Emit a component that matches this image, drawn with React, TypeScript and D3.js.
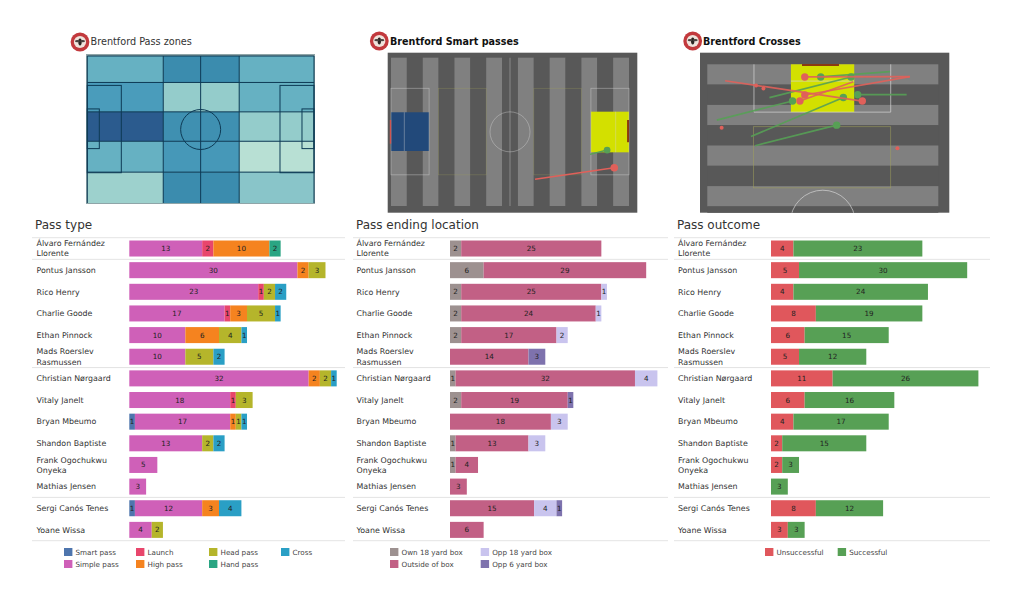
import React from 'react';
import * as d3 from 'd3';

const font = '"DejaVu Sans", sans-serif';

// players, top to bottom, same order in all three bar panels
const players = [
  ['Álvaro Fernández', 'Llorente'],
  ['Pontus Jansson'],
  ['Rico Henry'],
  ['Charlie Goode'],
  ['Ethan Pinnock'],
  ['Mads Roerslev', 'Rasmussen'],
  ['Christian Nørgaard'],
  ['Vitaly Janelt'],
  ['Bryan Mbeumo'],
  ['Shandon Baptiste'],
  ['Frank Ogochukwu', 'Onyeka'],
  ['Mathias Jensen'],
  ['Sergi Canós Tenes'],
  ['Yoane Wissa'],
];
// separators fall after these rows
const groupBreaks = [-1, 0, 5, 11, 13];

// pass type
const smartPass = [0, 0, 0, 0, 0, 0, 0, 0, 1, 0, 0, 0, 1, 0];
const simplePass = [13, 30, 23, 17, 10, 10, 32, 18, 17, 13, 5, 3, 12, 4];
const launch = [2, 0, 1, 1, 0, 0, 0, 1, 0, 0, 0, 0, 0, 0];
const highPass = [10, 2, 0, 3, 6, 0, 2, 0, 1, 0, 0, 0, 3, 0];
const headPass = [0, 3, 2, 5, 4, 5, 2, 3, 1, 2, 0, 0, 0, 2];
const handPass = [2, 0, 0, 0, 0, 0, 0, 0, 0, 0, 0, 0, 0, 0];
const cross = [0, 0, 2, 1, 1, 2, 1, 0, 1, 2, 0, 0, 4, 0];

// pass ending location
const own18 = [2, 6, 2, 2, 2, 0, 1, 2, 0, 1, 1, 0, 0, 0];
const outsideBox = [25, 29, 25, 24, 17, 14, 32, 19, 18, 13, 4, 3, 15, 6];
const opp18 = [0, 0, 1, 1, 2, 0, 4, 0, 3, 3, 0, 0, 4, 0];
const opp6 = [0, 0, 0, 0, 0, 3, 0, 1, 0, 0, 0, 0, 1, 0];

// pass outcome
const unsuccessful = [4, 5, 4, 8, 6, 5, 11, 6, 4, 2, 2, 0, 8, 3];
const successful = [23, 30, 24, 19, 15, 12, 26, 16, 17, 15, 3, 3, 12, 3];

const typeSeries = [
  { name: 'Smart pass', values: smartPass, color: '#4e75ad' },
  { name: 'Simple pass', values: simplePass, color: '#cf60b8' },
  { name: 'Launch', values: launch, color: '#e8466c' },
  { name: 'High pass', values: highPass, color: '#f5831f' },
  { name: 'Head pass', values: headPass, color: '#b5b52b' },
  { name: 'Hand pass', values: handPass, color: '#2aa583' },
  { name: 'Cross', values: cross, color: '#2a9fc5' },
];
const locationSeries = [
  { name: 'Own 18 yard box', values: own18, color: '#9d9190' },
  { name: 'Outside of box', values: outsideBox, color: '#c26085' },
  { name: 'Opp 18 yard box', values: opp18, color: '#c9c4ee' },
  { name: 'Opp 6 yard box', values: opp6, color: '#7e72ad' },
];
const outcomeSeries = [
  { name: 'Unsuccessful', values: unsuccessful, color: '#e0575c' },
  { name: 'Successful', values: successful, color: '#57a055' },
];

// pass zones: number of passes per zone, rows top to bottom, thirds left to right
const zoneColEdges = [0, 33.5, 67, 100];
const zoneRowEdges = [0, 18, 38, 58, 79, 100];
const zoneCounts = [
  [7, 11, 7],
  [9, 5, 7],
  [20, 10.5, 5],
  [7, 9.5, 3],
  [4.5, 11, 5.5],
];
const zoneCountDomain = [3, 5, 7, 9, 11, 20];
const zoneCountColors = ['#b8e0d4', '#94cccb', '#66b1c2', '#4a9cbb', '#3b8cae', '#2b5b8e'];

// smart passes in pitch units: start x, start y, end x, end y
const smartMissed = [[60.5, 82, 93.8, 74.2]];
const smartCompleted = [[83.6, 65.2, 90.8, 62.3]];

// crosses on the attacking half: start width, start length, end width, end length
const crossesMissed = [
  [87.7, 96.1, 42.2, 90.3],
  [7.7, 94.8, 67.1, 88.4],
  [87.7, 96.1, 42.2, 96],
  [63.2, 94.5, 40.1, 88.4],
];
const crossesCompleted = [
  [26.9, 89.5, 62.2, 96],
  [4.1, 82.4, 36.9, 88.4],
  [18.9, 77.2, 58.9, 89.5],
  [20.7, 74.3, 56, 80.8],
  [86.3, 90.4, 65.1, 90.4],
  [79.1, 97.7, 49.1, 96],
];
const crossesBlocked = [
  [24.3, 92.4],
  [21.1, 93.3],
  [6.2, 80],
  [82.3, 73.5],
];

const red = '#e0605a';
const green = '#57a055';
const darkGrey = '#585858';
const lightGrey = '#808080';
const lineWhite = '#d8d8d8';
const lineFaint = '#a3a35a';
const hotYellow = '#d3e000';
const coldBlue = '#22497a';

const Crest = ({ cx, cy }: { cx: number; cy: number }) => (
  <g transform={`translate(${cx},${cy})`}>
    <circle r={9.4} fill="#c2393d" />
    <circle r={6.1} fill="#efe3dc" />
    <ellipse rx={1.7} ry={3.4} fill="#2b2422" />
    <ellipse cx={-2.6} cy={-0.8} rx={2.4} ry={1.1} fill="#4a4340" />
    <ellipse cx={2.6} cy={-0.8} rx={2.4} ry={1.1} fill="#4a4340" />
  </g>
);

const PitchTitle = ({ x, text, bold }: { x: number; text: string; bold?: boolean }) => (
  <text x={x} y={45.3} fontFamily={font} fontSize={bold ? 9.6 : 9.7} fontWeight={bold ? 700 : 400} fill={bold ? '#111' : '#333'}>
    {text}
  </text>
);

const ZonesPitch = () => {
  const x = d3.scaleLinear().domain([0, 100]).range([87.3, 314]);
  const y = d3.scaleLinear().domain([0, 100]).range([56, 203]);
  const color = d3.scaleLinear<string>().domain(zoneCountDomain).range(zoneCountColors);
  const stroke = '#0d3a55';
  return (
    <g>
      <rect x={86} y={54} width={229} height={150} fill="#8fa5a8" />
      {zoneCounts.map((row, r) =>
        row.map((count, c) => (
          <rect
            key={`${r}-${c}`}
            x={x(zoneColEdges[c])}
            y={y(zoneRowEdges[r])}
            width={x(zoneColEdges[c + 1]) - x(zoneColEdges[c])}
            height={y(zoneRowEdges[r + 1]) - y(zoneRowEdges[r])}
            fill={color(count)}
          />
        ))
      )}
      <g fill="none" stroke={stroke} strokeWidth={1}>
        {zoneRowEdges.slice(0, -1).map((e) => (
          <line key={`r${e}`} x1={x(0)} x2={x(100)} y1={y(e)} y2={y(e)} />
        ))}
        {[0, 33.5, 50, 67, 100].map((e) => (
          <line key={`c${e}`} x1={x(e)} x2={x(e)} y1={y(0)} y2={y(100)} />
        ))}
        <rect x={x(0)} y={y(20)} width={x(15) - x(0)} height={y(79.4) - y(20)} />
        <rect x={x(0)} y={y(36)} width={x(5.3) - x(0)} height={y(63) - y(36)} />
        <rect x={x(85)} y={y(20)} width={x(100) - x(85)} height={y(79.4) - y(20)} />
        <rect x={x(94.7)} y={y(36)} width={x(100) - x(94.7)} height={y(63) - y(36)} />
        <circle cx={x(50)} cy={y(50)} r={20} />
      </g>
    </g>
  );
};

const SmartPitch = () => {
  const x = d3.scaleLinear().domain([0, 100]).range([391, 629]);
  const y = d3.scaleLinear().domain([0, 100]).range([57.7, 206]);
  const stripes = d3.scaleBand<number>().domain(d3.range(15)).range([391, 629]);
  const passes = [
    { rows: smartMissed, color: red, r: 3.8 },
    { rows: smartCompleted, color: green, r: 3.4 },
  ];
  return (
    <g>
      <rect x={387.7} y={52.7} width={249.6} height={160} fill={darkGrey} />
      {stripes.domain().map((i) => (
        <rect key={i} x={stripes(i)} y={y(0)} width={stripes.bandwidth()} height={y(100) - y(0)} fill={i % 2 ? darkGrey : lightGrey} />
      ))}
      <rect x={x(0)} y={y(36.8)} width={x(16) - x(0)} height={y(62.9) - y(36.8)} fill={coldBlue} />
      <rect x={x(84)} y={y(36.4)} width={x(100) - x(84)} height={y(63.8) - y(36.4)} fill={hotYellow} />
      <g fill="none" stroke={lineFaint} strokeWidth={0.6} strokeOpacity={0.45}>
        <rect x={x(20)} y={y(20.6)} width={x(40) - x(20)} height={y(79) - y(20.6)} />
        <rect x={x(60)} y={y(20.6)} width={x(80) - x(60)} height={y(79) - y(20.6)} />
      </g>
      <g fill="none" stroke={lineWhite} strokeWidth={0.7} strokeOpacity={0.55}>
        <rect x={x(0)} y={y(20.6)} width={x(16) - x(0)} height={y(79) - y(20.6)} />
        <rect x={x(84)} y={y(20.6)} width={x(100) - x(84)} height={y(79) - y(20.6)} />
        <line x1={x(50)} x2={x(50)} y1={y(0)} y2={y(100)} />
        <line x1={x(5.6)} x2={x(5.6)} y1={y(36.8)} y2={y(62.9)} />
        <line x1={x(94.4)} x2={x(94.4)} y1={y(36.4)} y2={y(63.8)} />
        <circle cx={x(50)} cy={y(50)} r={20} />
      </g>
      <line x1={x(0) - 0.5} x2={x(0) - 0.5} y1={y(42)} y2={y(58)} stroke="#d0554f" strokeWidth={1.4} />
      <line x1={x(99.6)} x2={x(99.6)} y1={y(42)} y2={y(57)} stroke="#8a3a10" strokeWidth={2} />
      {passes.map((p) =>
        p.rows.map((d, i) => (
          <g key={`${p.color}${i}`} fill={p.color} stroke={p.color}>
            <line x1={x(d[0])} y1={y(d[1])} x2={x(d[2])} y2={y(d[3])} strokeWidth={1.5} />
            <circle cx={x(d[2])} cy={y(d[3])} r={p.r} stroke="none" />
          </g>
        ))
      )}
    </g>
  );
};

const CrossPitch = () => {
  const x = d3.scaleLinear().domain([0, 100]).range([707.3, 938.3]);
  const y = d3.scaleLinear().domain([100, 50]).range([64.3, 222.7]);
  const stripes = d3.scaleBand<number>().domain(d3.range(8)).range([64.3, 226.7]);
  const passes = [
    { rows: crossesCompleted, color: green },
    { rows: crossesMissed, color: red },
  ];
  return (
    <g>
      <clipPath id="cross-clip">
        <rect x={700} y={52.7} width={249.3} height={160} />
      </clipPath>
      <rect x={700} y={52.7} width={249.3} height={160} fill={darkGrey} />
      <g clipPath="url(#cross-clip)">
        {stripes.domain().map((i) => (
          <rect key={i} x={x(0)} y={stripes(i)} width={x(100) - x(0)} height={stripes.bandwidth()} fill={i % 2 ? darkGrey : lightGrey} />
        ))}
      </g>
      <rect x={x(36.2)} y={y(100)} width={x(63.6) - x(36.2)} height={y(84.9) - y(100)} fill={hotYellow} />
      <rect x={x(20)} y={y(80.3)} width={x(79.4) - x(20)} height={y(61) - y(80.3)} fill="none" stroke={lineFaint} strokeWidth={0.7} strokeOpacity={0.7} />
      <g fill="none" stroke={lineWhite} strokeWidth={0.8} strokeOpacity={0.85}>
        <path d={`M${x(20.2)},${y(100)}V${y(84.9)}H${x(79.4)}V${y(100)}`} />
        <line x1={x(36.2)} x2={x(63.6)} y1={y(94.7)} y2={y(94.7)} />
        <g clipPath="url(#cross-clip)">
          <circle cx={x(50)} cy={y(50)} r={32.5} />
        </g>
      </g>
      <line x1={x(41)} x2={x(57)} y1={y(99.8)} y2={y(99.8)} stroke="#8a3a10" strokeWidth={2} />
      {passes.map((p) =>
        p.rows.map((d, i) => (
          <g key={`${p.color}${i}`} fill={p.color} stroke={p.color}>
            <line x1={x(d[0])} y1={y(d[1])} x2={x(d[2])} y2={y(d[3])} strokeWidth={1.7} strokeOpacity={0.9} />
            <circle cx={x(d[2])} cy={y(d[3])} r={3.7} stroke="none" />
          </g>
        ))
      )}
      {crossesBlocked.map((d, i) => (
        <circle key={i} cx={x(d[0])} cy={y(d[1])} r={2} fill={red} />
      ))}
    </g>
  );
};

type Series = { name: string; values: number[]; color: string };

const BarPanel = ({
  title,
  series,
  titleX,
  labelX,
  barX,
  ruleX,
}: {
  title: string;
  series: Series[];
  titleX: number;
  labelX: number;
  barX: number;
  ruleX: [number, number];
}) => {
  const x = d3.scaleLinear().domain([0, 37]).range([barX, barX + 207.4]);
  const y = d3.scaleBand<number>().domain(d3.range(players.length)).range([237.7, 540.7]).paddingInner(0.26).paddingOuter(0.13);
  const rows = players.map((_, i) => {
    const row: Record<string, number> = { index: i };
    series.forEach((s) => (row[s.name] = s.values[i]));
    return row;
  });
  const stacked = d3.stack<Record<string, number>>().keys(series.map((s) => s.name))(rows);
  return (
    <g fontFamily={font}>
      <text x={titleX} y={229} fontSize={12} fill="#333">
        {title}
      </text>
      {groupBreaks.map((b) => {
        const ry = 237.7 + (b + 1) * y.step();
        return <line key={b} x1={ruleX[0]} x2={ruleX[1]} y1={ry} y2={ry} stroke="#dcdcdc" strokeWidth={0.8} />;
      })}
      {players.map((lines, i) => {
        const cy = y(i)! + y.bandwidth() / 2;
        return lines.map((line, k) => (
          <text key={line} x={labelX} y={cy + (k - (lines.length - 1) / 2) * 10.4} dy="0.35em" fontSize={7.9} fill="#333">
            {line}
          </text>
        ));
      })}
      {stacked.map((layer, s) =>
        layer.map((d, i) => {
          const v = d[1] - d[0];
          if (!v) return null;
          return (
            <g key={`${s}-${i}`}>
              <rect x={x(d[0])} y={y(i)} width={x(d[1]) - x(d[0])} height={y.bandwidth()} fill={series[s].color} />
              <text x={(x(d[0]) + x(d[1])) / 2} y={y(i)! + y.bandwidth() / 2} dy="0.35em" textAnchor="middle" fontSize={7.2} fill="#222">
                {v}
              </text>
            </g>
          );
        })
      )}
    </g>
  );
};

const Legend = ({ series, columns, rows }: { series: Series[]; columns: number[]; rows: number }) => {
  const rowY = d3.scaleOrdinal<number, number>().domain([0, 1]).range([552, 564]);
  return (
    <g fontFamily={font}>
      {series.map((s, i) => {
        // legend fills column by column
        const col = Math.floor(i / rows);
        const cy = rowY(i % rows);
        return (
          <g key={s.name}>
            <rect x={columns[col]} y={cy - 4} width={8.4} height={8} fill={s.color} />
            <text x={columns[col] + 11.5} y={cy} dy="0.35em" fontSize={7.2} fill="#444">
              {s.name}
            </text>
          </g>
        );
      })}
    </g>
  );
};

const App = () => (
  <svg width={1024} height={602} viewBox="0 0 1024 602" style={{ position: 'fixed', left: 0, top: 0, background: '#fff' }}>
    <Crest cx={80} cy={42} />
    <PitchTitle x={90.5} text="Brentford Pass zones" />
    <ZonesPitch />
    <Crest cx={379.3} cy={41} />
    <PitchTitle x={390} text="Brentford Smart passes" bold />
    <SmartPitch />
    <Crest cx={692.7} cy={41} />
    <PitchTitle x={703} text="Brentford Crosses" bold />
    <CrossPitch />

    <BarPanel title="Pass type" series={typeSeries} titleX={35} labelX={36.5} barX={129.3} ruleX={[32, 345]} />
    <BarPanel title="Pass ending location" series={locationSeries} titleX={356} labelX={356.5} barX={450} ruleX={[353, 668]} />
    <BarPanel title="Pass outcome" series={outcomeSeries} titleX={677} labelX={678} barX={771} ruleX={[674, 990]} />

    <Legend series={typeSeries} columns={[64, 136, 209, 281]} rows={2} />
    <Legend series={locationSeries} columns={[390, 480.7]} rows={2} />
    <Legend series={outcomeSeries} columns={[765, 837.7]} rows={1} />
  </svg>
);

export default App;
